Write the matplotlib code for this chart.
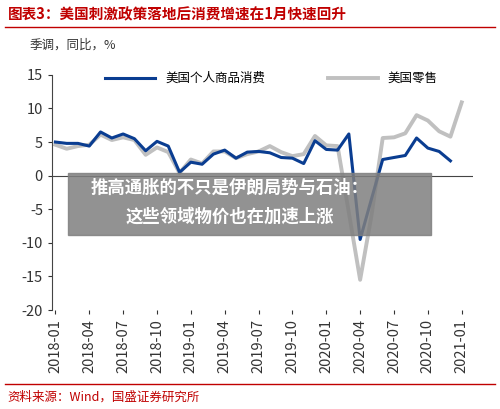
import matplotlib.pyplot as plt
import numpy as np

plt.rcParams['font.family'] = ['Noto Sans CJK SC', 'DejaVu Sans']
plt.rcParams['axes.unicode_minus'] = False

months = [f'{y}-{m:02d}' for y in (2018, 2019, 2020) for m in range(1, 13)] + ['2021-01']
goods = [5.0, 4.8, 4.8, 4.4, 6.5, 5.6, 6.2, 5.5, 3.7, 5.1, 4.4, 0.5,
         2.0, 1.7, 3.2, 3.8, 2.6, 3.5, 3.6, 3.4, 2.7, 2.6, 1.8, 5.2,
         3.9, 3.8, 6.2, -9.5, -3.5, 2.4, 2.7, 3.0, 5.6, 4.1, 3.6, 2.2]
retail = [4.6, 4.0, 4.4, 4.6, 6.1, 5.3, 5.7, 5.3, 3.1, 4.2, 3.5, 0.4,
          2.4, 1.8, 3.6, 3.6, 2.6, 3.2, 3.6, 4.4, 3.5, 2.9, 3.2, 5.9,
          4.5, 4.4, -5.5, -15.5, -6.0, 5.6, 5.7, 6.3, 9.0, 8.2, 6.6, 5.8, 10.9]

fig = plt.figure(figsize=(5.0, 4.09), dpi=100)
ax = fig.add_axes([0.104, 0.242, 0.842, 0.575])
x = np.arange(len(months))
ax.plot(x, retail, color='#c0c0c0', lw=2.8, label='美国零售')
ax.plot(x[:len(goods)], goods, color='#0a3d91', lw=2.2, label='美国个人商品消费')
ax.set_ylim(-20, 15)
ax.set_xlim(-0.3, 37)
ax.set_yticks(range(-20, 16, 5))
ax.set_xticks(x[::3])
ax.set_xticklabels(months[::3], rotation=90)
ax.tick_params(labelsize=10.5, colors='#333333', length=3)
ax.axhline(0, color='#444444', lw=0.8)
ax.spines['top'].set_visible(False)
ax.spines['right'].set_visible(False)
ax.spines['bottom'].set_visible(False)
ax.spines['left'].set_color('#444444')
h, l = ax.get_legend_handles_labels()
ax.legend(h[::-1], l[::-1], ncol=2, frameon=False, loc='upper left',
          bbox_to_anchor=(0.1, 1.06), fontsize=9, columnspacing=5, handlelength=4)
fig.text(0.06, 0.88, '季调，同比，%', fontsize=9, color='#333333')

fig.text(0.015, 0.965, '图表3：美国刺激政策落地后消费增速在1月快速回升', fontsize=10.5,
         color='#c00000', style='italic', weight='bold', va='center')
fig.add_artist(plt.Line2D([0.01, 0.99], [0.935, 0.935], color='#c00000', lw=1))
fig.add_artist(plt.Line2D([0.01, 0.99], [0.06, 0.06], color='#c00000', lw=1))
fig.text(0.015, 0.03, '资料来源：Wind，国盛证券研究所', fontsize=9, color='#c00000',
         style='italic', va='center')

fig.patches.append(plt.Rectangle((0.136, 0.425), 0.726, 0.152, transform=fig.transFigure,
                                 color='#7f7f7f', alpha=0.85, zorder=5))
fig.text(0.46, 0.54, '推高通胀的不只是伊朗局势与石油：', fontsize=12.5, color='white',
         weight='bold', ha='center', va='center', zorder=6)
fig.text(0.46, 0.47, '这些领域物价也在加速上涨', fontsize=12.5, color='white',
         weight='bold', ha='center', va='center', zorder=6)

fig.savefig('out.png', dpi=100)
